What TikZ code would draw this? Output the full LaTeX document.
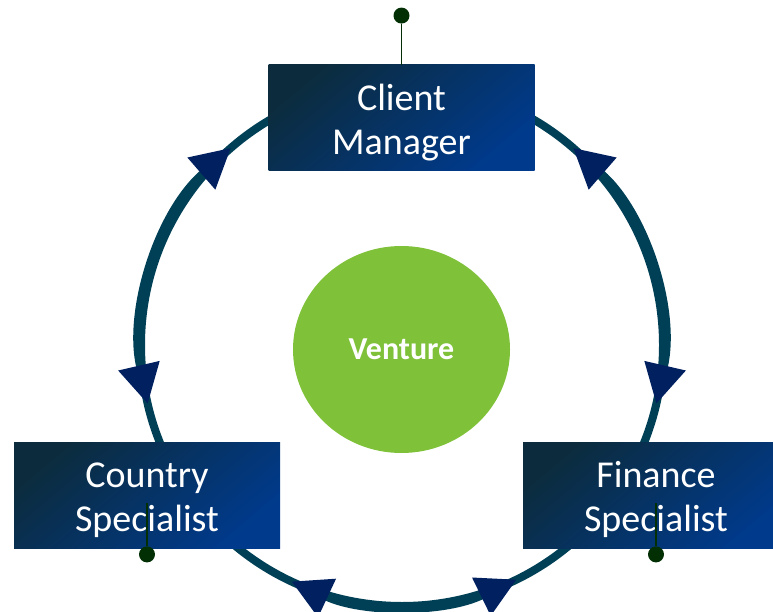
\documentclass[tikz,border=0pt]{standalone}
\usepackage{fontspec}
\setmainfont{Carlito}
\usetikzlibrary{arrows.meta,positioning,shapes.geometric}
\definecolor{boxdark}{RGB}{12,44,62}
\definecolor{boxblue}{RGB}{0,58,140}
\definecolor{ringteal}{RGB}{0,64,86}
\definecolor{tipnavy}{RGB}{0,32,96}
\definecolor{venturegreen}{RGB}{128,193,58}
\definecolor{pingreen}{RGB}{2,48,4}
\newcommand\toprule{\rule{0pt}{36pt}}
\tikzset{
  role/.style={rectangle, top color=boxdark, bottom color=boxblue, shading angle=40,
    minimum width=266pt, minimum height=106pt, inner sep=0pt, align=center,
    text=white, font=\fontsize{38}{44}\selectfont},
  ring/.style={line width=8pt, draw=ringteal},
  ringarrow/.style={ring, line width=6pt,
    {Triangle[length=39pt, width=41pt, color=tipnavy]}-{Triangle[length=39pt, width=41pt, color=tipnavy]}},
  pindot/.style={circle, fill=pingreen, minimum size=16pt, inner sep=0pt},
  pinline/.style={draw=pingreen, line width=1.6pt}
}

\begin{document}
\begin{tikzpicture}[x=1pt, y=1pt]
\useasboundingbox (0,0) rectangle (773,611);
\coordinate (hub) at (402,266);
\draw[ring] (hub) circle[radius=261];
\draw[ringarrow] ([shift={(193:261)}]hub) arc[start angle=193, end angle=131, radius=261];
\draw[ringarrow] ([shift={(49:261)}]hub) arc[start angle=49, end angle=-13, radius=261];
\draw[ringarrow] ([shift={(245:261)}]hub) arc[start angle=245, end angle=296, radius=261];
\node[ellipse, fill=venturegreen, minimum width=217pt, minimum height=207pt, text=white,
  font=\bfseries\fontsize{32}{38}\selectfont] (venture) at (401.5,261.5) {Venture};
\node[role] (client) at (401.5,493) {\toprule Client\\Manager};
\node[role] (country) at (147,116) {\toprule Country\\Specialist};
\node[role] (finance) at (656,116) {\toprule Finance\\Specialist};
\node[pindot, above=41pt of client] (clientpin) {};
\node[pindot, below=-2pt of country] (countrypin) {};
\node[pindot, below=-2pt of finance] (financepin) {};
\draw[pinline] (client.north) -- (clientpin);
\draw[pinline] ([yshift=-8pt]country.center) -- (countrypin);
\draw[pinline] ([yshift=-8pt]finance.center) -- (financepin);
\end{tikzpicture}
\end{document}
